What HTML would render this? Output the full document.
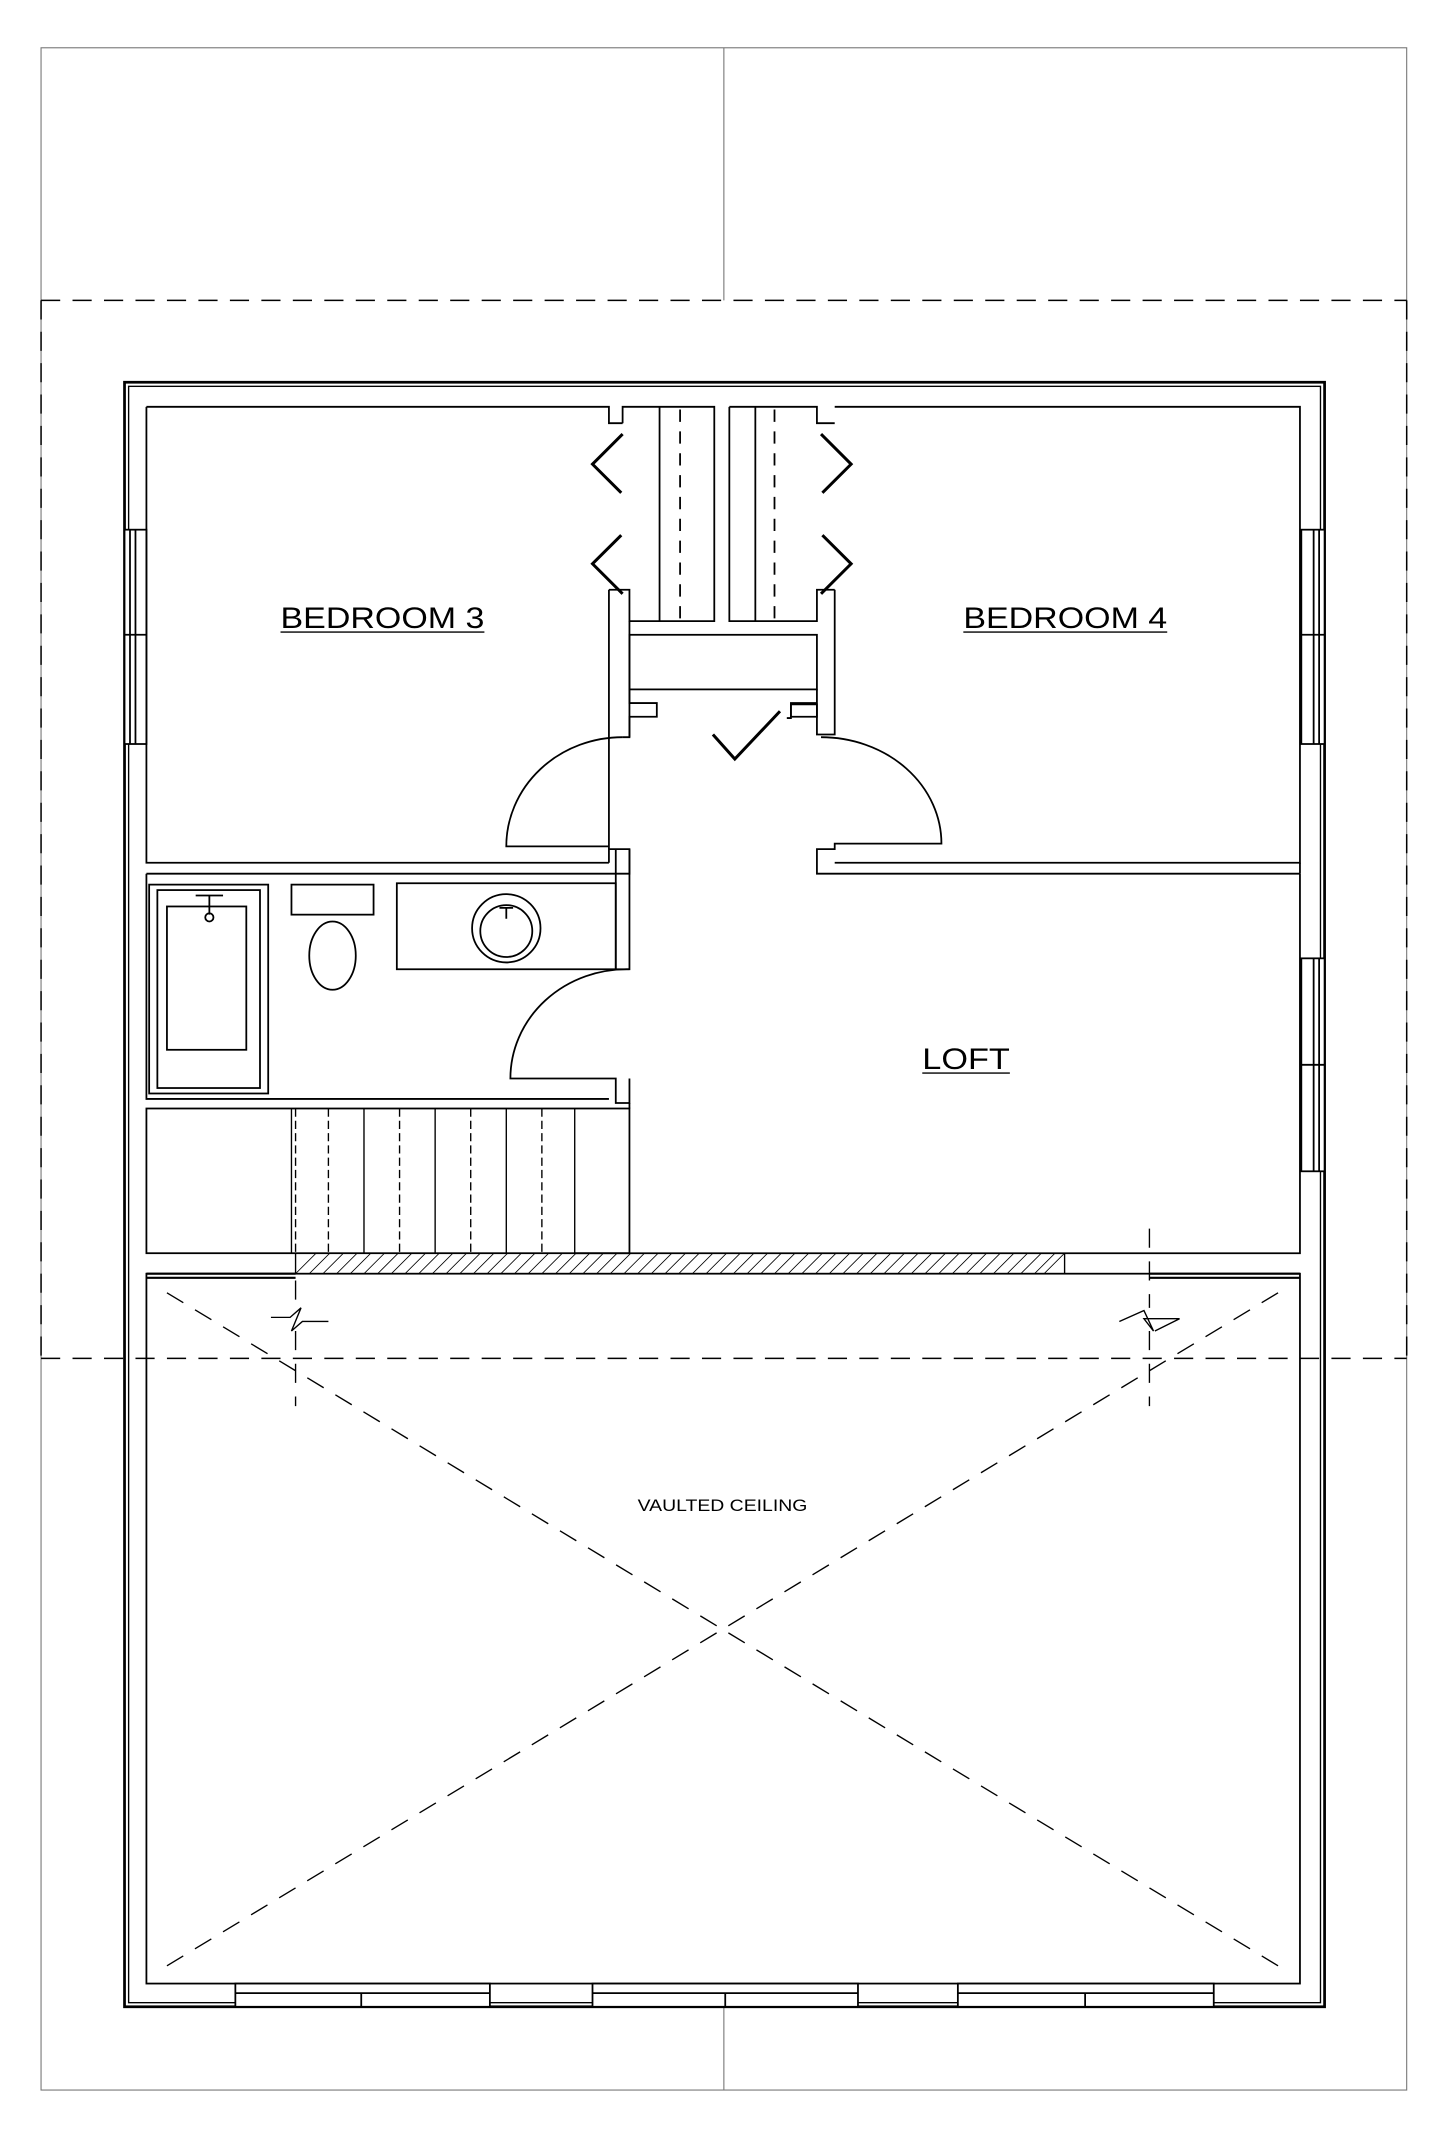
<!DOCTYPE html>
<html><head><meta charset="utf-8"><style>
html,body{margin:0;padding:0;background:#fff}
svg{display:block}
text{font-family:"Liberation Sans",sans-serif;fill:#000}
</style></head><body>
<svg width="1445" height="2131" viewBox="0 0 1056 1561" preserveAspectRatio="none" xmlns="http://www.w3.org/2000/svg">
<g fill="none" stroke="#000" stroke-width="1.3">
<rect x="30" y="35" width="998" height="1496" stroke="#777" stroke-width="0.8"/>
<line x1="529" y1="35" x2="529" y2="220" stroke="#777" stroke-width="0.8"/>
<line x1="529" y1="1470" x2="529" y2="1531" stroke="#777" stroke-width="0.8"/>
<g stroke-dasharray="14,9" stroke-width="1.1">
<line x1="30" y1="220" x2="1028" y2="220"/>
<line x1="30" y1="995" x2="1028" y2="995"/>
<line x1="30" y1="220" x2="30" y2="995"/>
<line x1="1028" y1="220" x2="1028" y2="995"/>
</g>
<rect x="91" y="280" width="877" height="1190" stroke-width="2"/>
<rect x="94" y="283" width="871" height="1184" stroke-width="1"/>
<g fill="#fff">
<rect x="91" y="388" width="16" height="157"/>
<line x1="95" y1="388" x2="95" y2="545"/><line x1="99" y1="388" x2="99" y2="545"/>
<line x1="91" y1="465" x2="107" y2="465"/>
<rect x="951" y="388" width="17" height="157"/>
<line x1="960" y1="388" x2="960" y2="545"/><line x1="964" y1="388" x2="964" y2="545"/>
<line x1="951" y1="465" x2="968" y2="465"/>
<rect x="951" y="702" width="17" height="156"/>
<line x1="960" y1="702" x2="960" y2="858"/><line x1="964" y1="702" x2="964" y2="858"/>
<line x1="951" y1="780" x2="968" y2="780"/>
</g>
<path d="M107 298 H445 V310 H455 M107 298 V632 H445"/>
<path d="M445 632 V622 H460 V640 H107"/>
<path d="M455 310 V298 H522 V455 H460 V432 H445"/>
<path d="M445 432 V622"/>
<path d="M460 455 V540 H455"/>
<line x1="482" y1="298" x2="482" y2="455"/>
<line x1="497" y1="300" x2="497" y2="455" stroke-dasharray="9,7"/>
<path d="M533 298 H597 V310 H610 M533 298 V455 H597 V432 H610"/>
<line x1="552" y1="298" x2="552" y2="455"/>
<line x1="566" y1="300" x2="566" y2="455" stroke-dasharray="9,7"/>
<path d="M610 298 H950 V632 H610"/>
<path d="M610 432 V538 H597 V516 H578 V526 H575"/>
<g stroke-width="2.2">
<path d="M455 318 L433 340 L454 361"/>
<path d="M455 435 L433 413 L454 392"/>
<path d="M600 318 L622 340 L601 361"/>
<path d="M600 435 L622 413 L601 392"/>
<path d="M521 538 L537 556 L570 521"/>
</g>
<rect x="460" y="465" width="137" height="40"/>
<path d="M460 505 V515 H480 V525 H460 V540"/>
<path d="M597 505 V525 H578 V515 H597"/>
<path d="M455 540 A85 80 0 0 0 370 620 H445" />
<path d="M600 540 A88 78 0 0 1 688 618 H610 V622 H597 V640 H950"/>
<path d="M950 632 V640"/>
<path d="M107 640 V805 H445"/>
<rect x="109" y="648" width="87" height="153"/>
<rect x="115" y="652" width="75" height="145"/>
<rect x="122" y="664" width="58" height="105"/>
<path d="M143 656 h20 M153 656 v14"/>
<circle cx="153" cy="672" r="3"/>
<rect x="213" y="648" width="60" height="22"/>
<ellipse cx="243" cy="700" rx="17" ry="25"/>
<rect x="290" y="647" width="160" height="63"/>
<circle cx="370" cy="680" r="25"/><circle cx="370" cy="682" r="19"/>
<path d="M365 665 h10 M370 665 v8"/>
<path d="M450 622 V710 H460 V622"/>
<path d="M460 710 A85 80 0 0 0 373 790 H450 V808 H460 V790"/>
<rect x="107" y="812" width="353" height="106"/>
<path d="M460 808 V812"/>
<g stroke-width="1">
<line x1="213" y1="812" x2="213" y2="918"/>
<line x1="216" y1="812" x2="216" y2="918" stroke-dasharray="6,3"/>
<line x1="240" y1="812" x2="240" y2="918" stroke-dasharray="6,3"/>
<line x1="266" y1="812" x2="266" y2="918"/>
<line x1="292" y1="812" x2="292" y2="918" stroke-dasharray="6,3"/>
<line x1="318" y1="812" x2="318" y2="918"/>
<line x1="344" y1="812" x2="344" y2="918" stroke-dasharray="6,3"/>
<line x1="370" y1="812" x2="370" y2="918"/>
<line x1="396" y1="812" x2="396" y2="918" stroke-dasharray="6,3"/>
<line x1="420" y1="812" x2="420" y2="918"/>
</g>
<path d="M950 640 V918 H420"/>
<rect x="216" y="918" width="562" height="15" stroke-width="1"/>
<g stroke-width="0.6">
<path d="M216 933 l15 -15 M226 933 l15 -15 M236 933 l15 -15 M246 933 l15 -15 M256 933 l15 -15 M266 933 l15 -15 M276 933 l15 -15 M286 933 l15 -15 M296 933 l15 -15 M306 933 l15 -15 M316 933 l15 -15 M326 933 l15 -15 M336 933 l15 -15 M346 933 l15 -15 M356 933 l15 -15 M366 933 l15 -15 M376 933 l15 -15 M386 933 l15 -15 M396 933 l15 -15 M406 933 l15 -15 M416 933 l15 -15 M426 933 l15 -15 M436 933 l15 -15 M446 933 l15 -15 M456 933 l15 -15 M466 933 l15 -15 M476 933 l15 -15 M486 933 l15 -15 M496 933 l15 -15 M506 933 l15 -15 M516 933 l15 -15 M526 933 l15 -15 M536 933 l15 -15 M546 933 l15 -15 M556 933 l15 -15 M566 933 l15 -15 M576 933 l15 -15 M586 933 l15 -15 M596 933 l15 -15 M606 933 l15 -15 M616 933 l15 -15 M626 933 l15 -15 M636 933 l15 -15 M646 933 l15 -15 M656 933 l15 -15 M666 933 l15 -15 M676 933 l15 -15 M686 933 l15 -15 M696 933 l15 -15 M706 933 l15 -15 M716 933 l15 -15 M726 933 l15 -15 M736 933 l15 -15 M746 933 l15 -15 M756 933 l15 -15 M763 933 l15 -15"/>
</g>
<path d="M107 933 H216 M107 936 H216 M840 933 H950 M840 936 H950" stroke-width="1.6"/>
<rect x="107" y="933" width="843" height="520"/>
<g stroke-dasharray="14,10" stroke-width="1">
<line x1="122" y1="947" x2="934" y2="1440"/>
<line x1="934" y1="947" x2="122" y2="1440"/>
<line x1="216" y1="938" x2="216" y2="958"/>
<line x1="216" y1="975" x2="216" y2="1030"/>
<line x1="840" y1="900" x2="840" y2="958"/>
<line x1="840" y1="975" x2="840" y2="1030"/>
</g>
<path d="M198 965 H212 L220 958 L213 975 L221 968 H240" stroke-width="1"/>
<path d="M818 968 L836 960 L843 975 L836 966 H862 L844 975" stroke-width="1"/>
<g fill="#fff">
<rect x="172" y="1453" width="186" height="17"/><line x1="172" y1="1460" x2="358" y2="1460"/><line x1="264" y1="1460" x2="264" y2="1470"/>
<rect x="433" y="1453" width="194" height="17"/><line x1="433" y1="1460" x2="627" y2="1460"/><line x1="530" y1="1460" x2="530" y2="1470"/>
<rect x="700" y="1453" width="187" height="17"/><line x1="700" y1="1460" x2="887" y2="1460"/><line x1="793" y1="1460" x2="793" y2="1470"/>
</g>
</g>
<text x="205" y="460" font-size="22" textLength="149" lengthAdjust="spacingAndGlyphs">BEDROOM 3</text>
<line x1="205" y1="463" x2="354" y2="463" stroke="#000" stroke-width="1"/>
<text x="704" y="460" font-size="22" textLength="149" lengthAdjust="spacingAndGlyphs">BEDROOM 4</text>
<line x1="704" y1="463" x2="853" y2="463" stroke="#000" stroke-width="1"/>
<text x="674" y="783" font-size="22" textLength="64" lengthAdjust="spacingAndGlyphs">LOFT</text>
<line x1="674" y1="786" x2="738" y2="786" stroke="#000" stroke-width="1"/>
<text x="466" y="1107" font-size="12" textLength="124" lengthAdjust="spacingAndGlyphs">VAULTED CEILING</text>
</svg>
</body></html>
